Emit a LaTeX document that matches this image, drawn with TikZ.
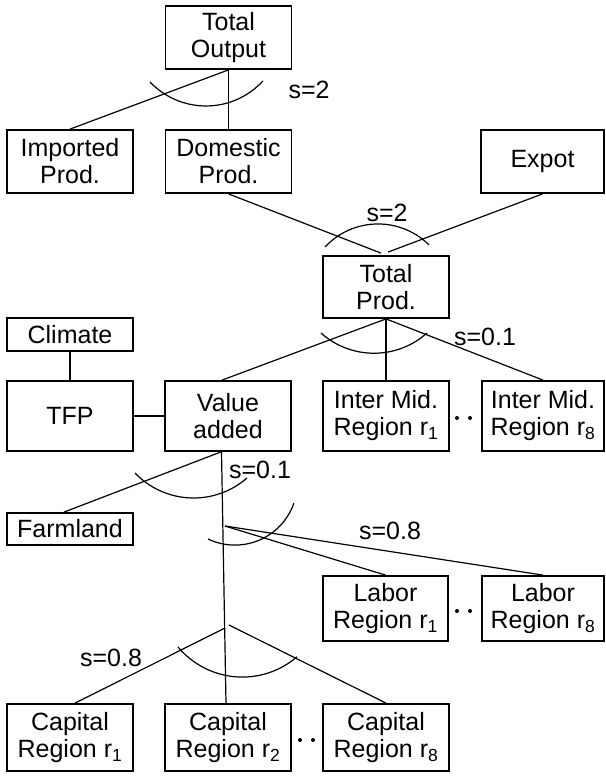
\documentclass[tikz,border=0pt]{standalone}
\usepackage{fontspec}
\setmainfont{Liberation Sans}
\usetikzlibrary{calc}
\begin{document}
\begin{tikzpicture}[x=1pt,y=-1pt,
  box/.style={draw, line width=1.8pt, inner sep=0pt, align=center, font=\fontsize{25}{27}\selectfont},
  conn/.style={line width=1.2pt},
  lbl/.style={inner sep=0pt, font=\fontsize{25}{27}\selectfont},
  dot/.style={fill=black}]
\useasboundingbox (0,0) rectangle (605,776);

% nodes
\node[box, minimum width=126pt, minimum height=63pt] (to) at (228.5,37.5) {Total\\Output};
\node[box, minimum width=126pt, minimum height=63pt] (im) at (70,161.5) {Imported\\Prod.};
\node[box, minimum width=126pt, minimum height=63pt] (dp) at (228.5,161.5) {Domestic\\Prod.};
\node[box, minimum width=123pt, minimum height=63pt] (ex) at (542.5,161.5) {Expot};
\node[box, minimum width=126pt, minimum height=62pt] (tp) at (386,287) {Total\\Prod.};
\node[box, minimum width=126pt, minimum height=33pt] (cl) at (70,334.5) {Climate};
\node[box, minimum width=126pt, minimum height=70pt] (tfp) at (70,416) {TFP};
\node[box, minimum width=126pt, minimum height=70pt] (va) at (228,416) {Value\\added};
\node[box, minimum width=126pt, minimum height=70pt] (i1) at (386,416) {Inter Mid.\\Region r\textsubscript{1}};
\node[box, minimum width=122pt, minimum height=70pt] (i8) at (543,416) {Inter Mid.\\Region r\textsubscript{8}};
\node[box, minimum width=126pt, minimum height=32pt] (fa) at (70,529) {Farmland};
\node[box, minimum width=125pt, minimum height=65pt] (l1) at (385.5,608.5) {Labor\\Region r\textsubscript{1}};
\node[box, minimum width=122pt, minimum height=65pt] (l8) at (543,608.5) {Labor\\Region r\textsubscript{8}};
\node[box, minimum width=126pt, minimum height=67pt] (c1) at (70,737.5) {Capital\\Region r\textsubscript{1}};
\node[box, minimum width=126pt, minimum height=67pt] (c2) at (228,737.5) {Capital\\Region r\textsubscript{2}};
\node[box, minimum width=126pt, minimum height=67pt] (c8) at (386,737.5) {Capital\\Region r\textsubscript{8}};

% labels
\node[lbl] (s1) at (309,90) {s=2};
\node[lbl] (s2) at (387,213) {s=2};
\node[lbl] (s3) at (485,337) {s=0.1};
\node[lbl] (s4) at (260,470) {s=0.1};
\node[lbl] (s5) at (390,531) {s=0.8};
\node[lbl] (s6) at (111,658) {s=0.8};

% connectors
\draw[conn] (to.south) -- (im.north);
\draw[conn] (to.south) -- (dp.north);
\draw[conn] (dp.south) -- ($(tp.north)+(-5,-2)$);
\draw[conn] (ex.south) -- ($(tp.north)+(2,-3)$);
\draw[conn] (tp.south) -- ($(va.north)+(-6,0)$);
\draw[conn] (tp.south) -- (i1.north);
\draw[conn] (tp.south) -- (i8.north);
\draw[conn] (cl.south) -- (tfp.north);
\draw[conn] (tfp.east) -- (va.west);
\draw[conn] ($(va.south)+(-7,0)$) -- ($(fa.north)+(-6,0)$);
\draw[conn] ($(va.south)+(-6.5,0)$) -- ($(c2.north)+(-2,0)$);
\coordinate (lab) at (225,526);
\draw[conn] (lab) -- (l1.north);
\draw[conn] (lab) -- (l8.north);
\coordinate (capl) at (225,628);
\coordinate (capr) at (229,625);
\draw[conn] (capl) -- ($(c1.north)+(5,0)$);
\draw[conn] (capr) -- (c8.north);

% arcs
\draw[conn] (150,82) arc[start angle=136.4, end angle=42.5, radius=77.3];
\draw[conn] (325,247) arc[start angle=223, end angle=314.7, radius=72.5];
\draw[conn] (321,333) arc[start angle=131.8, end angle=48.2, radius=79.5];
\draw[conn] (135,473) arc[start angle=136.2, end angle=48.9, radius=81.2];
\draw[conn] (208,539) arc[start angle=115.5, end angle=19.2, radius=62.5];
\draw[conn] (178,647) arc[start angle=140.1, end angle=49.4, radius=83.9];

% dots
\fill[dot] (457,418) circle[radius=2];
\fill[dot] (470,418) circle[radius=2];
\fill[dot] (457,611) circle[radius=2];
\fill[dot] (470,611) circle[radius=2];
\fill[dot] (300,740) circle[radius=2];
\fill[dot] (313,740) circle[radius=2];
\end{tikzpicture}
\end{document}
